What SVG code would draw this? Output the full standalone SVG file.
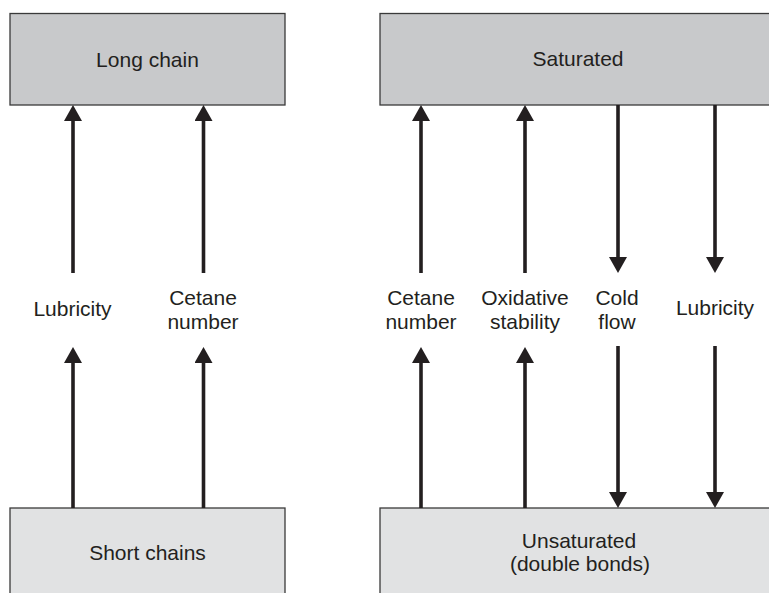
<svg xmlns="http://www.w3.org/2000/svg" width="769" height="593" viewBox="0 0 769 593">
  <style>
    .box-top { fill: #c8c9cb; stroke: #3a3a3a; stroke-width: 1.3; }
    .box-bot { fill: #e1e2e3; stroke: #3a3a3a; stroke-width: 1.3; }
    .label { font-family: "Liberation Sans", Arial, sans-serif; font-size: 21px; fill: #231f20; text-anchor: middle; }
    .conn { stroke: #231f20; stroke-width: 3.6; fill: none; marker-end: url(#head); }
  </style>
  <defs>
    <marker id="head" markerUnits="userSpaceOnUse" markerWidth="17" markerHeight="18" refX="0" refY="9" orient="auto">
      <path d="M0,0 L16,9 L0,18 z" fill="#231f20"/>
    </marker>
  </defs>

  <rect width="769" height="593" fill="#ffffff"/>

  <!-- chain length -->
  <g id="long-chain">
    <rect class="box-top" x="10" y="13.5" width="275" height="91.5"/>
    <text class="label" x="147.5" y="67">Long chain</text>
  </g>
  <g id="short-chains">
    <rect class="box-bot" x="10" y="508" width="275" height="100"/>
    <text class="label" x="147.5" y="560">Short chains</text>
  </g>

  <!-- saturation -->
  <g id="saturated">
    <rect class="box-top" x="380" y="13.5" width="400" height="91.5"/>
    <text class="label" x="578" y="66">Saturated</text>
  </g>
  <g id="unsaturated">
    <rect class="box-bot" x="380" y="508" width="400" height="100"/>
    <text class="label" x="579" y="548">Unsaturated</text>
    <text class="label" x="580" y="571">(double bonds)</text>
  </g>

  <!-- property labels -->
  <g id="lubricity-left">
    <text class="label" x="72.5" y="316">Lubricity</text>
  </g>
  <g id="cetane-left">
    <text class="label" x="203" y="305">Cetane</text>
    <text class="label" x="203" y="329">number</text>
  </g>
  <g id="cetane-right">
    <text class="label" x="421" y="305">Cetane</text>
    <text class="label" x="421" y="329">number</text>
  </g>
  <g id="oxidative-stability">
    <text class="label" x="525" y="305">Oxidative</text>
    <text class="label" x="525" y="329">stability</text>
  </g>
  <g id="cold-flow">
    <text class="label" x="617" y="305">Cold</text>
    <text class="label" x="617" y="329">flow</text>
  </g>
  <g id="lubricity-right">
    <text class="label" x="715" y="315">Lubricity</text>
  </g>

  <!-- connectors -->
  <g id="connectors">
    <line class="conn" x1="73" y1="273" x2="73" y2="121"/>
    <line class="conn" x1="73" y1="508" x2="73" y2="363"/>
    <line class="conn" x1="203.5" y1="273" x2="203.5" y2="121"/>
    <line class="conn" x1="203.5" y1="508" x2="203.5" y2="363"/>

    <line class="conn" x1="421" y1="273" x2="421" y2="121"/>
    <line class="conn" x1="421" y1="508" x2="421" y2="363"/>
    <line class="conn" x1="525" y1="273" x2="525" y2="121"/>
    <line class="conn" x1="525" y1="508" x2="525" y2="363"/>

    <line class="conn" x1="618" y1="105" x2="618" y2="257"/>
    <line class="conn" x1="618" y1="346" x2="618" y2="492"/>
    <line class="conn" x1="715" y1="105" x2="715" y2="257"/>
    <line class="conn" x1="715" y1="346" x2="715" y2="492"/>
  </g>
</svg>
